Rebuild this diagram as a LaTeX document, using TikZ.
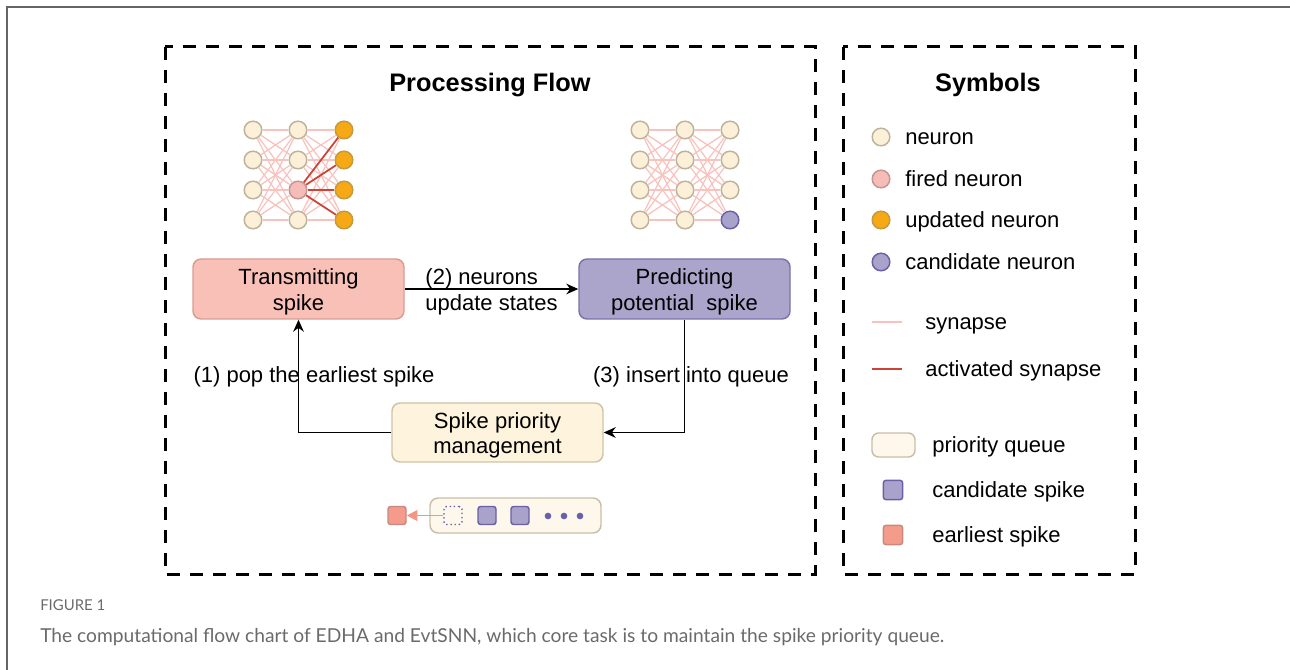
\documentclass[tikz,border=0pt]{standalone}
\usepackage{fontspec}
\setmainfont{Liberation Sans}
\newfontfamily\capfont{Lato}
\usetikzlibrary{arrows.meta}

\definecolor{frame}{HTML}{666666}
\definecolor{neufill}{HTML}{FDF0D8}
\definecolor{neuedge}{HTML}{BDB39C}
\definecolor{firefill}{HTML}{F6BDB8}
\definecolor{fireedge}{HTML}{C6958F}
\definecolor{updfill}{HTML}{F6A914}
\definecolor{updedge}{HTML}{C39A42}
\definecolor{candfill}{HTML}{A9A3CC}
\definecolor{candedge}{HTML}{6A60A8}
\definecolor{synline}{HTML}{F8C2BD}
\definecolor{actline}{HTML}{CF4336}
\definecolor{transfill}{HTML}{F8C0B6}
\definecolor{transedge}{HTML}{D99C93}
\definecolor{predfill}{HTML}{ABA5CB}
\definecolor{prededge}{HTML}{7B72AE}
\definecolor{mgmtfill}{HTML}{FEF3DC}
\definecolor{mgmtedge}{HTML}{CFC3A6}
\definecolor{queuefill}{HTML}{FEF8EC}
\definecolor{queueedge}{HTML}{C9BFA8}
\definecolor{earlyfill}{HTML}{F49B8C}
\definecolor{earlyedge}{HTML}{C88A80}
\definecolor{poparrow}{HTML}{F29686}
\definecolor{captext}{HTML}{6A6A6A}

\tikzset{
  dashbox/.style={draw, line width=2.25pt, dash pattern=on 9.75pt off 7.5pt},
  neuron/.style={circle, minimum size=13.2pt, inner sep=0pt, line width=1.1pt, draw=neuedge, fill=neufill},
  fired/.style={neuron, draw=fireedge, fill=firefill},
  updated/.style={neuron, draw=updedge, fill=updfill},
  candidate/.style={neuron, draw=candedge, fill=candfill},
  syn/.style={draw=synline, line width=0.95pt},
  act/.style={draw=actline, line width=1.3pt},
  flowbox/.style={rounded corners=6pt, minimum width=158.25pt, minimum height=45pt, line width=1.1pt},
  boxtext/.style={align=center, inner sep=0pt, font=\fontsize{16.5}{19}\selectfont, yshift=-2.2pt},
  label/.style={font=\fontsize{16.5}{19.5}\selectfont, inner sep=0pt},
  flow/.style={draw=black, line width=0.8pt, -{Stealth[length=9pt,width=8pt]}},
  spikesq/.style={rectangle, rounded corners=2pt, minimum size=13.5pt, inner sep=0pt, line width=1.1pt},
  cand/.style={spikesq, draw=candedge, fill=candfill},
  early/.style={spikesq, draw=earlyedge, fill=earlyfill},
  legtext/.style={anchor=mid west, inner sep=0pt, font=\fontsize{16.5}{19}\selectfont},
}

\begin{document}
\begin{tikzpicture}[x=0.75pt,y=-0.75pt]
\useasboundingbox (0,0) rectangle (1290,670);

% page frame
\draw[frame, line width=1.5pt] (7,670) -- (7,7) -- (1290,7);

% panels
\draw[dashbox] (165,47) rectangle (815,574);
\draw[dashbox] (843,47) rectangle (1135,574);

\node[anchor=mid, font=\bfseries\fontsize{19}{22}\selectfont] (t1) at (490,88) {Processing Flow};
\node[anchor=mid, font=\bfseries\fontsize{19}{22}\selectfont] (t2) at (988,88) {Symbols};

% networks
\foreach \r/\y in {1/130,2/160,3/190,4/220}{
  \edef\st{\ifnum\r=3 fired\else neuron\fi}
  \edef\sr{\ifnum\r=4 candidate\else neuron\fi}
  \node[neuron] (L1\r) at (253,\y) {};
  \node[\st]    (L2\r) at (298,\y) {};
  \node[updated] (L3\r) at (344,\y) {};
  \node[neuron] (R1\r) at (640,\y) {};
  \node[neuron] (R2\r) at (685,\y) {};
  \node[\sr]    (R3\r) at (730,\y) {};
}
\foreach \a in {1,...,4}{
  \foreach \b in {1,...,4}{
    \draw[syn] (L1\a) -- (L2\b);
    \draw[syn] (L2\a) -- (L3\b);
    \draw[syn] (R1\a) -- (R2\b);
    \draw[syn] (R2\a) -- (R3\b);
  }
}
\foreach \b in {1,...,4}{ \draw[act] (L23) -- (L3\b); }

% flow boxes
\node[flowbox, draw=transedge, fill=transfill] (trans) at (298.5,289) {};
\node[boxtext] (trans-t) at (trans.center) {Transmitting\\spike};
\node[flowbox, draw=prededge, fill=predfill] (pred) at (684.5,289) {};
\node[boxtext] (pred-t) at (pred.center) {Predicting\\potential\ \ spike};
\node[flowbox, draw=mgmtedge, fill=mgmtfill, minimum height=44.25pt] (mgmt) at (497.5,432.5) {};
\node[boxtext] (mgmt-t) at (mgmt.center) {Spike priority\\management};

\draw[flow] (trans) -- node[label, align=left, pos=0.5, yshift=-2.2pt] {(2) neurons\\update states} (pred);
\draw[flow] (pred.south) |- (mgmt.east);
\draw[flow] (mgmt.west) -| (trans.south);

\node[label, anchor=mid] (l3) at (691,379) {(3) insert into queue};
\node[label, anchor=mid] (l1) at (314,379) {(1) pop the earliest spike};

% queue
\node[rectangle, rounded corners=6pt, draw=queueedge, fill=queuefill, line width=1.1pt,
  minimum width=128.25pt, minimum height=26.25pt, inner sep=0pt] (queue) at (515.5,515.5) {};
\node[spikesq, draw=candedge, fill=queuefill, dotted, line width=1.1pt] (slot) at (453,515.5) {};
\node[cand] (q1) at (487,515.5) {};
\node[cand] (q2) at (520,515.5) {};
\foreach \i/\x in {1/548,2/564,3/580}{
  \node[circle, fill=candedge, inner sep=0pt, minimum size=5pt] (dot\i) at (\x,516) {};
}
\node[early] (pop) at (397,515.5) {};
\draw[draw=poparrow, line width=1.4pt, -{Triangle[length=8pt,width=8pt]}] (slot) -- (pop);

% symbols
\node[neuron]    (s1) at (881,137) {};
\node[fired]     (s2) at (881,179) {};
\node[updated]   (s3) at (881,220) {};
\node[candidate] (s4) at (881,262) {};
\node[legtext] at (905,141) {neuron};
\node[legtext] at (905,183) {fired neuron};
\node[legtext] at (905,224) {updated neuron};
\node[legtext] at (905,266) {candidate neuron};

\coordinate (sa) at (872,322);
\coordinate (sb) at (902,322);
\coordinate (aa) at (872,369);
\coordinate (ab) at (902,369);
\draw[draw=synline, line width=1.8pt] (sa) -- (sb);
\draw[draw=actline, line width=1.8pt] (aa) -- (ab);
\node[legtext] at (925,326) {synapse};
\node[legtext] at (925,373) {activated synapse};

\node[rectangle, rounded corners=5pt, draw=queueedge, fill=queuefill, line width=1.1pt,
  minimum width=32.25pt, minimum height=18pt, inner sep=0pt] (sq) at (893.5,445) {};
\node[cand, minimum size=14.5pt] (sc) at (893,490) {};
\node[early, minimum size=14.5pt] (se) at (893,535) {};
\node[legtext] at (932,449) {priority queue};
\node[legtext] at (932,494) {candidate spike};
\node[legtext] at (932,539) {earliest spike};

% caption
\node[anchor=mid west, inner sep=0pt, text=captext, font=\capfont\fontsize{11.2}{13}\selectfont] (fig) at (40,607) {FIGURE 1};
\node[anchor=mid west, inner sep=0pt, text=captext, font=\capfont\fontsize{14.4}{17}\selectfont] (cap) at (40,639)
  {The computational flow chart of EDHA and EvtSNN, which core task is to maintain the spike priority queue.};
\end{tikzpicture}
\end{document}
